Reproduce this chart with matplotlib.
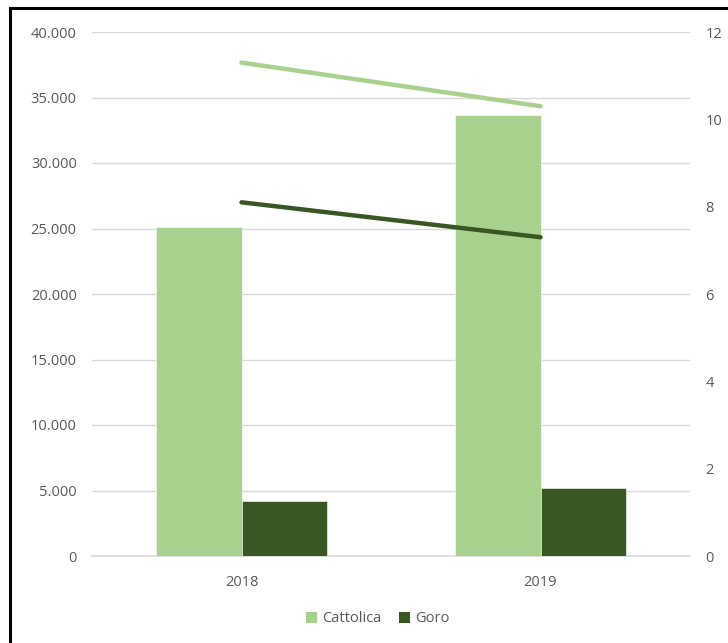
import matplotlib.pyplot as plt
from matplotlib.ticker import FuncFormatter
from matplotlib.lines import Line2D
from matplotlib.patches import Patch
import numpy as np

years = ["2018", "2019"]
series = ["Cattolica", "Goro"]
bar_values = {"Cattolica": [25100, 33700], "Goro": [4200, 5200]}
line_values = {"Cattolica": [11.3, 10.3], "Goro": [8.1, 7.3]}
colors = {"Cattolica": "#A9D18E", "Goro": "#385723"}

plt.rcParams["font.family"] = ["Open Sans", "DejaVu Sans"]
text_color = "#595959"
grid_color = "#D9D9D9"

fig = plt.figure(figsize=(7.28, 6.43), dpi=100)
ax = fig.add_axes([92 / 728, 1 - 556 / 643, 598 / 728, 524 / 643])
ax2 = ax.twinx()

x = np.arange(len(years))
width = 0.285
for i, s in enumerate(series):
    ax.bar(x + (i - 0.5) * width, bar_values[s], width, color=colors[s],
           edgecolor="white", linewidth=0.4, zorder=2)
for s in series:
    ax2.plot(x, line_values[s], color=colors[s], linewidth=3.2,
             solid_capstyle="round", zorder=3)

ax.set_xlim(-0.5, 1.5)
ax.set_ylim(0, 40000)
ax.set_yticks(np.arange(0, 40001, 5000))
ax.yaxis.set_major_formatter(FuncFormatter(lambda v, p: f"{int(v):,}".replace(",", ".")))
ax2.set_ylim(0, 12)
ax2.set_yticks(np.arange(0, 13, 2))
ax.set_xticks(x)
ax.set_xticklabels(years)

ax.grid(axis="y", color=grid_color, linewidth=1)
ax.set_axisbelow(True)
ax.axhline(0, color=grid_color, linewidth=1.2, zorder=1.5, clip_on=False)
for a in (ax, ax2):
    for sp in a.spines.values():
        sp.set_visible(False)
    a.tick_params(length=0, labelsize=10.5, labelcolor=text_color)
ax.tick_params(axis="y", pad=11)
ax2.tick_params(axis="y", pad=11)
ax.tick_params(axis="x", pad=14)

handles = [Patch(facecolor=colors[s], edgecolor="none") for s in series]
fig.legend(handles, series, loc="center", bbox_to_anchor=(378 / 728, 1 - 619 / 643),
           ncol=2, frameon=False, fontsize=10.5, labelcolor=text_color,
           handlelength=0.75, handleheight=0.75, handletextpad=0.35, columnspacing=1.2)

# outer frame (left and top edges)
fig.add_artist(Line2D([10 / 728, 10 / 728], [0, 1 - 8 / 643], transform=fig.transFigure,
                      color="black", linewidth=2.2))
fig.add_artist(Line2D([10 / 728, 1], [1 - 8 / 643, 1 - 8 / 643], transform=fig.transFigure,
                      color="black", linewidth=2.2))

fig.savefig("out.png", dpi=100, facecolor="white")
